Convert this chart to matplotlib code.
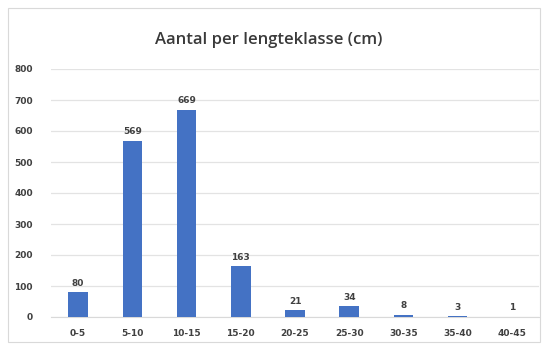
import matplotlib.pyplot as plt
from matplotlib.patches import Rectangle

categories = ["0-5", "5-10", "10-15", "15-20", "20-25", "25-30", "30-35", "35-40", "40-45"]
counts = [80, 569, 669, 163, 21, 34, 8, 3, 1]
yticks = [0, 100, 200, 300, 400, 500, 600, 700, 800]

W, H = 546, 348
fig = plt.figure(figsize=(W / 100, H / 100), dpi=100)
fig.patch.set_facecolor("white")

# light chart frame
fig.patches.append(Rectangle((8 / W, 6 / H), 532 / W, 334 / H, transform=fig.transFigure,
                             fill=False, edgecolor="#d9d9d9", linewidth=0.8))

ax = fig.add_axes([51 / W, (H - 317) / H, 488 / W, 248 / H])
x = range(len(categories))
bars = ax.bar(x, counts, width=0.36, color="#4472C4", zorder=3)

for xi, v in zip(x, counts):
    ax.text(xi, v + 14, str(v), ha="center", va="bottom", fontsize=6.5,
            fontweight="bold", color="#404040")

ax.set_xlim(-0.5, len(categories) - 0.5)
ax.set_ylim(0, 800)
ax.set_yticks(yticks)
ax.set_yticklabels([str(t) for t in yticks], fontsize=6.5, fontweight="bold", color="#404040")
ax.set_xticks(list(x))
ax.set_xticklabels(categories, fontsize=6.5, fontweight="bold", color="#404040")
ax.tick_params(axis="both", length=0)
ax.tick_params(axis="y", pad=13)
ax.tick_params(axis="x", pad=9)
ax.grid(axis="y", color="#e3e3e3", linewidth=0.9, zorder=0)
for s in ax.spines.values():
    s.set_visible(False)
ax.spines["bottom"].set_visible(True)
ax.spines["bottom"].set_color("#d9d9d9")

fig.text(269 / W, 1 - 40 / H, "Aantal per lengteklasse (cm)", ha="center", va="center",
         fontsize=12, fontfamily="Open Sans", fontweight="semibold", color="#3a3a3a")

fig.savefig("out.png", dpi=100, facecolor="white")
